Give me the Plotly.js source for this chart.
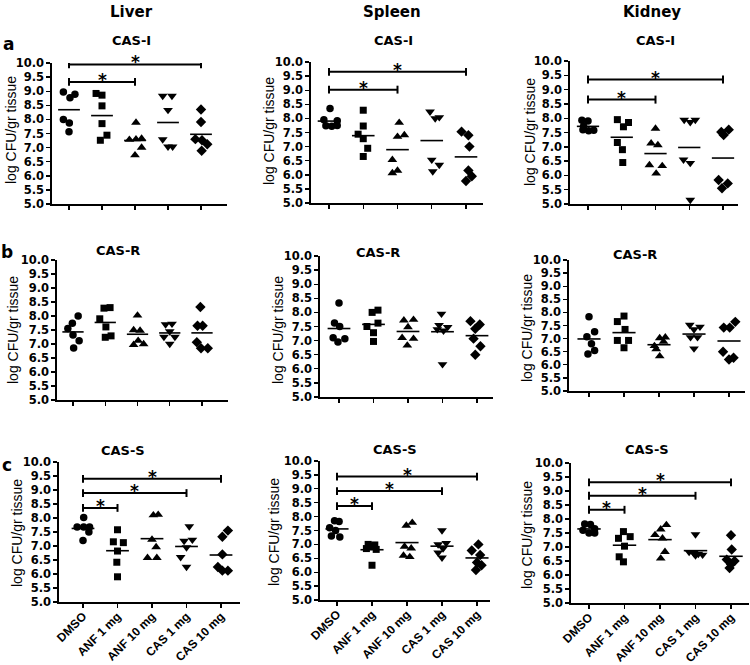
<!DOCTYPE html>
<html><head><meta charset="utf-8">
<script src="https://cdn.plot.ly/plotly-3.0.1.min.js"></script>
<style>html,body{margin:0;padding:0;background:#fff}</style>
</head><body><div id="chart" style="width:750px;height:665px"></div>
<script>
// ---------------- data ----------------
const categories = ['DMSO', 'ANF 1 mg', 'ANF 10 mg', 'CAS 1 mg', 'CAS 10 mg'];
const organs = ['Liver', 'Spleen', 'Kidney'];
const strains = ['CAS-I', 'CAS-R', 'CAS-S'];
const rowLetters = ['a', 'b', 'c'];
const yTitle = 'log CFU/gr tissue';

// values per group (log CFU/gr tissue), one array per treatment
const liverCASI  = [[8.97,8.77,8.89,8.00,7.87,7.56],[8.92,8.86,8.48,7.85,7.44,7.26],[7.89,7.28,7.30,7.32,7.00,6.73],[8.83,8.83,8.33,7.29,7.03,7.03],[8.35,7.91,7.30,7.26,7.12,6.89]];
const spleenCASI = [[8.35,7.95,7.92,7.74,7.72,7.75],[8.29,7.73,7.44,7.28,6.94,6.65],[7.85,7.35,7.41,6.53,6.06,6.15],[8.24,8.00,8.04,6.53,6.35,6.12],[7.53,7.40,7.00,6.15,5.95,5.78]];
const kidneyCASI = [[7.93,7.90,7.72,7.56,7.58,7.60],[7.95,7.85,7.70,7.15,6.90,6.45],[7.64,7.12,7.06,6.36,6.33,6.07],[7.94,7.94,7.86,6.55,6.43,5.14],[7.52,7.60,7.41,5.84,5.72,5.55]];
const liverCASR  = [[8.00,7.74,7.55,7.32,7.12,6.86],[8.28,8.30,7.90,7.61,7.29,7.24],[8.02,7.50,7.48,7.12,6.97,7.00],[7.70,7.72,7.45,7.25,7.25,7.00],[8.32,7.65,7.65,7.06,6.85,6.85]];
const spleenCASR = [[8.33,7.62,7.50,7.10,6.95,7.07],[8.08,8.00,7.62,7.50,7.28,6.97],[7.72,7.74,7.48,7.10,7.07,6.83],[7.95,7.55,7.48,7.40,7.35,6.16],[7.69,7.57,7.42,7.07,6.80,6.50]];
const kidneyCASR = [[7.83,7.26,7.07,6.80,6.41,6.55],[7.86,7.65,7.35,6.93,6.93,6.65],[7.02,7.05,6.72,6.88,6.60,6.33],[7.52,7.45,7.35,7.05,7.05,6.62],[7.42,7.42,7.64,6.50,6.20,6.27]];
const liverCASS  = [[8.02,7.68,7.68,7.68,7.50,7.20],[7.58,7.15,7.12,6.82,6.42,5.90],[8.10,8.12,7.23,6.96,6.58,6.58],[7.70,7.18,7.22,6.95,6.60,6.25],[7.55,7.33,6.70,6.25,6.12,6.12]];
const spleenCASS = [[7.85,7.82,7.60,7.50,7.30,7.27],[7.00,6.98,6.95,6.85,6.82,6.25],[7.68,7.78,6.92,6.86,6.60,6.55],[7.50,7.00,7.05,6.85,6.70,6.52],[7.00,6.78,6.62,6.35,6.25,6.08]];
const kidneyCASS = [[7.82,7.80,7.65,7.60,7.50,7.50],[7.55,7.31,7.37,7.03,6.65,6.47],[7.79,7.63,7.43,7.31,6.83,6.59],[7.45,6.82,6.78,6.75,6.72,6.70],[7.42,6.91,6.55,6.50,6.38,6.25]];

// significance brackets: from DMSO to group index, drawn at level
const liverCASI_sigTo = [4, 2];     const liverCASI_sigY = [9.95, 9.33];
const spleenCASI_sigTo = [4, 2];    const spleenCASI_sigY = [9.65, 9.02];
const kidneyCASI_sigTo = [4, 2];    const kidneyCASI_sigY = [9.35, 8.65];
const liverCASS_sigTo = [4, 3, 1];  const liverCASS_sigY = [9.40, 8.89, 8.36];
const spleenCASS_sigTo = [4, 3, 1]; const spleenCASS_sigY = [9.44, 8.92, 8.38];
const kidneyCASS_sigTo = [4, 3, 1]; const kidneyCASS_sigY = [9.31, 8.83, 8.33];

// horizontal scatter offsets of the points inside each group (category units)
const liverCASI_dx  = [[-0.17,0.03,0.18,-0.17,0.01,0],[-0.18,0,0,0,0.15,-0.05],[0.03,-0.17,0.03,0.2,0.2,0],[-0.16,0.12,0,-0.16,0,0.14],[0,0,-0.17,0.03,0.19,0.02]];
const spleenCASI_dx = [[0.03,-0.15,0.24,-0.09,0.08,0.24],[0,0,-0.15,0,0.13,0],[0.05,0,0.2,-0.15,-0.15,0],[-0.05,0.1,0.22,0,0.22,0.03],[-0.13,0.07,0.1,0.07,0.17,0]];
const kidneyCASI_dx = [[-0.18,0,-0.13,0.02,0.17,-0.15],[-0.13,0.2,0.05,-0.13,0.02,0.03],[0,-0.13,0.07,-0.18,0.2,0.02],[-0.15,0.18,0.03,-0.17,0.03,0.03],[-0.05,0.17,0.02,-0.13,0.14,-0.03]];
const liverCASR_dx  = [[0.16,-0.02,-0.16,0,0.19,0.02],[-0.04,0.15,-0.17,0.02,0.18,0],[0,-0.12,0.08,0.02,-0.12,0.19],[-0.13,0.07,0,-0.18,0.16,0],[-0.05,-0.14,0.02,-0.16,-0.03,0.18]];
const spleenCASR_dx = [[0,-0.13,0.02,-0.17,-0.03,0.17],[0.13,-0.04,0.13,-0.19,0,0],[-0.12,0.16,0,-0.17,0.16,-0.02],[-0.03,-0.1,0.15,-0.15,0.03,0],[-0.19,0.08,-0.05,-0.1,0.1,-0.05]];
const kidneyCASR_dx = [[0,0.16,-0.06,0.07,-0.03,0.16],[0,-0.19,0.03,-0.19,0.13,0],[0.02,0.18,-0.13,0.13,-0.08,0.02],[-0.12,0.17,0,-0.1,0.1,0],[-0.15,0.02,0.18,-0.17,0,0.13]];
const liverCASS_dx  = [[0.02,-0.17,0.02,0.19,0.17,0],[0,-0.12,0.17,0,-0.02,0],[0.04,0.18,0,0.12,-0.13,0.14],[0.08,-0.07,0.17,0,-0.17,0],[0.2,0.04,0.04,-0.09,0.04,0.2]];
const spleenCASS_dx = [[-0.07,0.06,-0.21,-0.04,-0.16,0.08],[-0.11,0.08,0,-0.16,0.12,0],[-0.02,0.15,-0.07,0.12,-0.1,0.08],[0,-0.11,0.12,0.03,-0.11,0],[0.04,-0.15,0.09,0,0.13,-0.03]];
const kidneyCASS_dx = [[-0.12,0.04,0.16,-0.17,0,0.16],[-0.03,-0.17,0.16,0,-0.15,-0.03],[0.18,0.02,-0.14,0.07,0.14,0.02],[0,-0.18,-0.05,0.08,0.2,0],[0,0.02,-0.12,0.1,0,-0.04]];

// ---------------- layout (pixel boxes of each panel) ----------------
const W = 750, H = 665;
const panels = [
  {vals: liverCASI,  dx: liverCASI_dx,  sigTo: liverCASI_sigTo,  sigY: liverCASI_sigY,  row:0, col:0, box:{left:52, t0:69,  t4:201, right:227, y10:63,  y5:204}},
  {vals: spleenCASI, dx: spleenCASI_dx, sigTo: spleenCASI_sigTo, sigY: spleenCASI_sigY, row:0, col:1, box:{left:311,t0:329, t4:466, right:483, y10:62,  y5:203}},
  {vals: kidneyCASI, dx: kidneyCASI_dx, sigTo: kidneyCASI_sigTo, sigY: kidneyCASI_sigY, row:0, col:2, box:{left:570,t0:588, t4:723, right:738, y10:61,  y5:204}},
  {vals: liverCASR,  dx: liverCASR_dx,  sigTo: [], sigY: [],                            row:1, col:0, box:{left:57, t0:73,  t4:202, right:228, y10:260, y5:400}},
  {vals: spleenCASR, dx: spleenCASR_dx, sigTo: [], sigY: [],                            row:1, col:1, box:{left:320,t0:339, t4:477, right:493, y10:256, y5:397}},
  {vals: kidneyCASR, dx: kidneyCASR_dx, sigTo: [], sigY: [],                            row:1, col:2, box:{left:569,t0:589, t4:729, right:745, y10:260, y5:391}},
  {vals: liverCASS,  dx: liverCASS_dx,  sigTo: liverCASS_sigTo,  sigY: liverCASS_sigY,  row:2, col:0, box:{left:59, t0:83,  t4:221, right:240, y10:462, y5:602}},
  {vals: spleenCASS, dx: spleenCASS_dx, sigTo: spleenCASS_sigTo, sigY: spleenCASS_sigY, row:2, col:1, box:{left:320,t0:337, t4:477, right:490, y10:461, y5:600}},
  {vals: kidneyCASS, dx: kidneyCASS_dx, sigTo: kidneyCASS_sigTo, sigY: kidneyCASS_sigY, row:2, col:2, box:{left:571,t0:589, t4:731, right:749, y10:463, y5:603}}
];
const symbols = ['circle', 'square', 'triangle-up', 'triangle-down', 'diamond'];
const symSize = [7.5, 7, 8.5, 8.5, 8];
const headerX = [131, 392, 652];
const stripTitlePos = [[[131,41],[393,41],[655,41]],[[118,251],[378,252],[635,254]],[[123,450],[395,449],[647,449]]];
const yTitlePos = [[[11,130],[269,131],[530,132]],[[13,330],[278,330],[527,328]],[[17,533],[274,532],[527,535]]];
const letterPos = [[8,44],[7,252],[7,465]];

const tickFont = {family: 'DejaVu Sans', size: 11.5, color: '#000', weight: 'bold'};
const traces = [];
const layout = {
  width: W, height: H, autosize: false, showlegend: false,
  margin: {l: 0, r: 0, t: 0, b: 0, pad: 0},
  paper_bgcolor: '#fff', plot_bgcolor: 'rgba(0,0,0,0)',
  font: {family: 'Liberation Sans, Arial, sans-serif', color: '#000'},
  annotations: [], shapes: []
};

panels.forEach((p, i) => {
  const n = i === 0 ? '' : String(i + 1);
  const xa = 'x' + n, ya = 'y' + n;
  const b = p.box;
  const s = (b.t4 - b.t0) / 4;
  const xr = [-(b.t0 - b.left) / s, 4 + (b.right - b.t4) / s];
  layout['xaxis' + n] = {
    domain: [b.left / W, b.right / W], range: xr, anchor: ya,
    showline: true, linecolor: '#000', linewidth: 1.6, mirror: false,
    showgrid: false, zeroline: false, ticks: 'outside', ticklen: 4, tickwidth: 1.4, tickcolor: '#000',
    tickvals: [0, 1, 2, 3, 4], ticktext: categories,
    showticklabels: p.row === 2, tickangle: -45, automargin: false, ticklabelstandoff: -3,
    tickfont: {family: 'Liberation Sans, Arial, sans-serif', size: 12, color: '#000', weight: 'bold'},
    fixedrange: true
  };
  layout['yaxis' + n] = {
    domain: [1 - b.y5 / H, 1 - b.y10 / H], range: [5, 10], anchor: xa,
    showline: true, linecolor: '#000', linewidth: 1.6, automargin: false,
    showgrid: false, zeroline: false, ticks: 'outside', ticklen: 4, tickwidth: 1.4, tickcolor: '#000',
    tick0: 5, dtick: 0.5, tickformat: '.1f', tickfont: tickFont, fixedrange: true
  };
  // points
  p.vals.forEach((v, j) => {
    traces.push({
      type: 'scatter', mode: 'markers', xaxis: xa, yaxis: ya,
      x: p.dx[j].map(d => j + d), y: v,
      marker: {symbol: symbols[j], size: symSize[j], color: '#000', line: {width: 0}},
      hoverinfo: 'skip'
    });
    const mean = v.reduce((a, c) => a + c, 0) / v.length;
    traces.push({
      type: 'scatter', mode: 'lines', xaxis: xa, yaxis: ya,
      x: [j - 0.33, j + 0.33], y: [mean, mean],
      line: {color: '#000', width: 1.6}, hoverinfo: 'skip'
    });
  });
  // significance brackets
  const cap = 0.14;
  p.sigTo.forEach((t, k) => {
    const h = p.sigY[k];
    traces.push({
      type: 'scatter', mode: 'lines', xaxis: xa, yaxis: ya,
      x: [0, 0, null, 0, t, null, t, t], y: [h - cap, h + cap, null, h, h, null, h - cap, h + cap],
      line: {color: '#000', width: 2}, hoverinfo: 'skip'
    });
    layout.annotations.push({
      xref: xa, yref: ya, x: t / 2, y: h, text: '*', showarrow: false,
      xanchor: 'center', yanchor: 'bottom', yshift: -10,
      font: {family: 'DejaVu Sans', size: 17, color: '#000', weight: 'bold'}
    });
  });
  // strip title
  const st = stripTitlePos[p.row][p.col];
  layout.annotations.push({
    xref: 'paper', yref: 'paper', x: st[0] / W, y: 1 - st[1] / H, text: strains[p.row],
    showarrow: false, xanchor: 'center', yanchor: 'middle',
    font: {family: 'DejaVu Sans', size: 13, color: '#000', weight: 'bold'}
  });
  // y axis title
  const yt = yTitlePos[p.row][p.col];
  layout.annotations.push({
    xref: 'paper', yref: 'paper', x: yt[0] / W, y: 1 - yt[1] / H, text: yTitle,
    showarrow: false, xanchor: 'center', yanchor: 'middle', textangle: -90,
    font: {family: 'Liberation Sans, Arial, sans-serif', size: 14, color: '#000'}
  });
});

organs.forEach((o, c) => {
  layout.annotations.push({
    xref: 'paper', yref: 'paper', x: headerX[c] / W, y: 1 - 12 / H, text: o,
    showarrow: false, xanchor: 'center', yanchor: 'middle',
    font: {family: 'DejaVu Sans', size: 15, color: '#000', weight: 'bold'}
  });
});
rowLetters.forEach((l, r) => {
  layout.annotations.push({
    xref: 'paper', yref: 'paper', x: letterPos[r][0] / W, y: 1 - letterPos[r][1] / H, text: l,
    showarrow: false, xanchor: 'center', yanchor: 'middle',
    font: {family: 'DejaVu Sans', size: 17, color: '#000', weight: 'bold'}
  });
});

Plotly.newPlot('chart', traces, layout, {displayModeBar: false, staticPlot: true});
</script></body></html>
